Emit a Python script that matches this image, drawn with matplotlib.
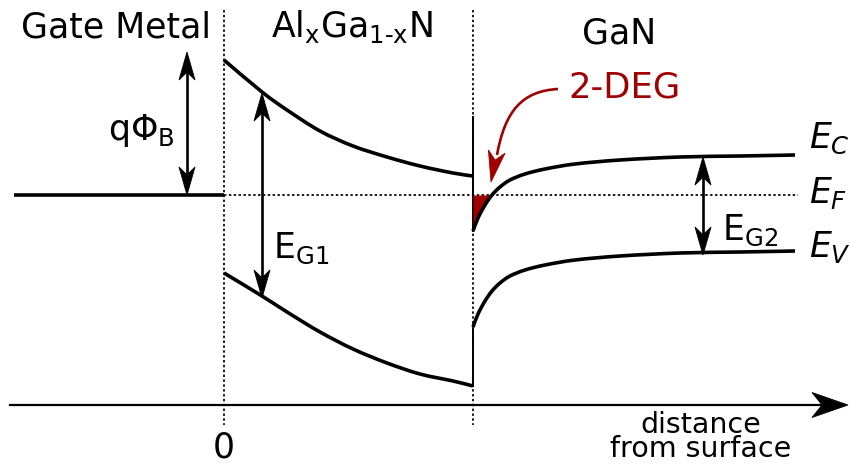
import matplotlib
matplotlib.use("Agg")
import matplotlib.pyplot as plt
from matplotlib.patches import Polygon, PathPatch
from matplotlib.path import Path
import numpy as np

plt.rcParams["font.family"] = "DejaVu Sans"
plt.rcParams["mathtext.fontset"] = "dejavusans"

# distance from the gate (x = 0 at the metal/AlGaN interface), arbitrary units;
# energies relative to the Fermi level E_F, arbitrary units
AXIS_LEFT, AXIS_RIGHT = -214, 624
AXIS_E = -210
metal_x = [-210, 0]
hetero_x = 249               # AlGaN/GaN interface
fermi_end = 574

algan_x = [0, 38, 63, 96, 129, 163, 196, 229, 249]
algan_ec = [135, 103, 85, 64, 49, 38, 29, 22, 19]
algan_ev = [-78, -101, -117, -137, -154, -168, -179, -186, -191]

gan_x = [249, 254, 261, 268, 276, 286, 301, 321, 351, 396, 456, 516, 571]
gan_ec = [-36, -23, -10, 0, 8, 15, 21, 26, 31, 35, 38, 39, 40]
gan_ev = [-132, -119, -106, -96, -88, -81, -75, -70, -65, -61, -58, -57, -56]

# band offsets drawn on the heterointerface
ec_step = (78, -36)
ev_step = (-134, -191)

# double arrows: (x, bottom, top)
phi_b = (-37, 0, 143)
eg1 = (38, -103, 102)
eg2 = (479, -60, 38)

RED = "#a00000"


def smooth(ax, xs, ys, **kw):
    """Draw a band edge as a Catmull-Rom curve through the given points."""
    p = np.column_stack([xs, ys]).astype(float)
    q = np.vstack([p[0], p, p[-1]])
    verts, codes = [p[0]], [Path.MOVETO]
    for i in range(len(p) - 1):
        c1 = q[i + 1] + (q[i + 2] - q[i]) / 6
        c2 = q[i + 2] - (q[i + 3] - q[i + 1]) / 6
        verts += [c1, c2, q[i + 2]]
        codes += [Path.CURVE4] * 3
    ax.add_patch(PathPatch(Path(verts, codes), fc="none", ec="k",
                           capstyle="butt", **kw))


def head(ax, tip, frm, length=28, half_w=8, color="k"):
    tip = np.asarray(tip, float)
    d = tip - np.asarray(frm, float)
    d /= np.hypot(*d)
    n = np.array([-d[1], d[0]])
    base = tip - length * d
    pts = [tip, base + half_w * n, tip - 0.72 * length * d, base - half_w * n]
    ax.add_patch(Polygon(pts, closed=True, fc=color, ec=color, lw=0.6,
                         joinstyle="miter", zorder=4))


def double_arrow(ax, x, lo, hi):
    ax.plot([x, x], [lo + 15, hi - 15], color="k", lw=1.9, zorder=3)
    head(ax, (x, hi), (x, lo))
    head(ax, (x, lo), (x, hi))


fig = plt.figure(figsize=(8.5, 4.71), dpi=100)
ax = fig.add_axes([0, 0, 1, 1])
ax.set_xlim(-224, 626)
ax.set_ylim(-276, 195)
ax.axis("off")

dots = dict(color="k", lw=1.25, linestyle=(0, (1.4, 1.4)))
ax.plot([0, 0], [185, -230], **dots)
ax.plot([hetero_x, hetero_x], [185, -230], **dots)
ax.plot([0, fermi_end], [0, 0], **dots)

# metal Fermi level and band edges
ax.plot(metal_x, [0, 0], color="k", lw=2.6, solid_capstyle="butt")
smooth(ax, algan_x, algan_ec, lw=2.6)
smooth(ax, algan_x, algan_ev, lw=2.6)
smooth(ax, gan_x, gan_ec, lw=2.6, zorder=3)
smooth(ax, gan_x, gan_ev, lw=2.6)
ax.plot([hetero_x, hetero_x], ec_step, color="k", lw=1.4)
ax.plot([hetero_x, hetero_x], ev_step, color="k", lw=1.4)

# electron gas below E_F at the interface
n2d = 4
ax.fill_between(gan_x[:n2d], gan_ec[:n2d], 0, color=RED, lw=0, zorder=2)

# distance axis
ax.plot([AXIS_LEFT, AXIS_RIGHT - 20], [AXIS_E, AXIS_E], color="k", lw=1.6)
head(ax, (AXIS_RIGHT, AXIS_E), (0, AXIS_E), length=36, half_w=12.5)

double_arrow(ax, *phi_b)
double_arrow(ax, *eg1)
double_arrow(ax, *eg2)

# curved pointer to the 2-DEG
verts = [(334, 106), (298, 104), (281, 84), (273, 40)]
codes = [Path.MOVETO, Path.CURVE4, Path.CURVE4, Path.CURVE4]
ax.add_patch(PathPatch(Path(verts, codes), fc="none", ec=RED, lw=1.9,
                       capstyle="butt"))
head(ax, (267, 13), (274, 50), length=31, half_w=8.5, color=RED)

fs = 25
ax.text(-108, 158, "Gate Metal", fontsize=fs, ha="center", va="baseline")
ax.text(128, 158, "Al$_\\mathregular{x}$Ga$_\\mathregular{1\u2010x}$N",
        fontsize=fs, ha="center", va="baseline")
ax.text(395, 152, "GaN", fontsize=fs, ha="center", va="baseline")
ax.text(344, 98, "2-DEG", fontsize=25.5, color=RED, ha="left",
        va="baseline")
ax.text(-116, 55, "q\u03a6$_\\mathregular{B}$", fontsize=fs, ha="left",
        va="baseline")
ax.text(49, -63, "E$_\\mathregular{G1}$", fontsize=fs, ha="left", va="baseline")
ax.text(498, -45, "E$_\\mathregular{G2}$", fontsize=fs, ha="left",
        va="baseline")
ax.text(585, 47, "$E_C$", fontsize=fs, ha="left", va="baseline")
ax.text(585, -8, "$E_F$", fontsize=fs, ha="left", va="baseline")
ax.text(585, -62, "$E_V$", fontsize=fs, ha="left", va="baseline")
ax.text(0, -262, "0", fontsize=fs, ha="center", va="baseline")
ax.text(477, -216, "distance\nfrom surface", fontsize=20.5, ha="center",
        va="top", linespacing=0.8)

fig.savefig("out.png", dpi=100)
